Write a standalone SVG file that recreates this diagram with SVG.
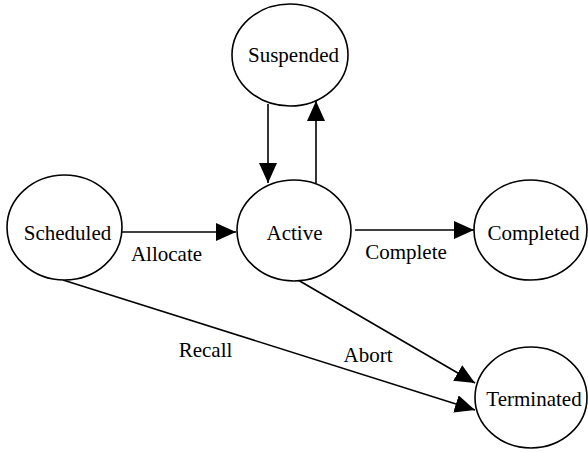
<svg xmlns="http://www.w3.org/2000/svg" width="588" height="453" viewBox="0 0 588 453">
<defs>
<marker id="arr" viewBox="0 0 20 18" refX="20" refY="9" markerWidth="20" markerHeight="18" markerUnits="userSpaceOnUse" orient="auto">
<path d="M0,0 L20,9 L0,18 z" fill="#000"/>
</marker>
<style>
.node ellipse{fill:#fff;stroke:#000;stroke-width:1.6}
.t{font-family:'Liberation Serif',serif;font-size:21px;fill:#000;text-anchor:middle}
.edge{stroke:#000;stroke-width:1.6;fill:none;marker-end:url(#arr)}
</style>
</defs>
<rect width="588" height="453" fill="#fff"/>
<g id="connectors">
<line class="edge" x1="268" y1="104" x2="268" y2="183"/>
<line class="edge" x1="316" y1="183" x2="316" y2="101"/>
<line class="edge" x1="122" y1="232" x2="236" y2="232"/>
<line class="edge" x1="355" y1="230" x2="474" y2="230"/>
<line class="edge" x1="298" y1="280" x2="475" y2="383"/>
<line class="edge" x1="63" y1="280" x2="475" y2="410"/>
<text class="t" x="166.5" y="261">Allocate</text>
<text class="t" x="406" y="259">Complete</text>
<text class="t" x="205.5" y="357">Recall</text>
<text class="t" x="368" y="362">Abort</text>
</g>
<g id="suspended" class="node"><ellipse cx="290" cy="55" rx="58" ry="51"/><text class="t" x="293.5" y="62">Suspended</text></g>
<g id="scheduled" class="node"><ellipse cx="64.5" cy="227.5" rx="57.5" ry="52.5"/><text class="t" x="67.5" y="240">Scheduled</text></g>
<g id="active" class="node"><ellipse cx="294" cy="230.5" rx="57" ry="50.5"/><text class="t" x="294.5" y="240">Active</text></g>
<g id="completed" class="node"><ellipse cx="530.5" cy="230" rx="56.5" ry="50"/><text class="t" x="533.5" y="240">Completed</text></g>
<g id="terminated" class="node"><ellipse cx="531" cy="397.5" rx="56" ry="50.5"/><text class="t" x="534" y="406">Terminated</text></g>
</svg>
